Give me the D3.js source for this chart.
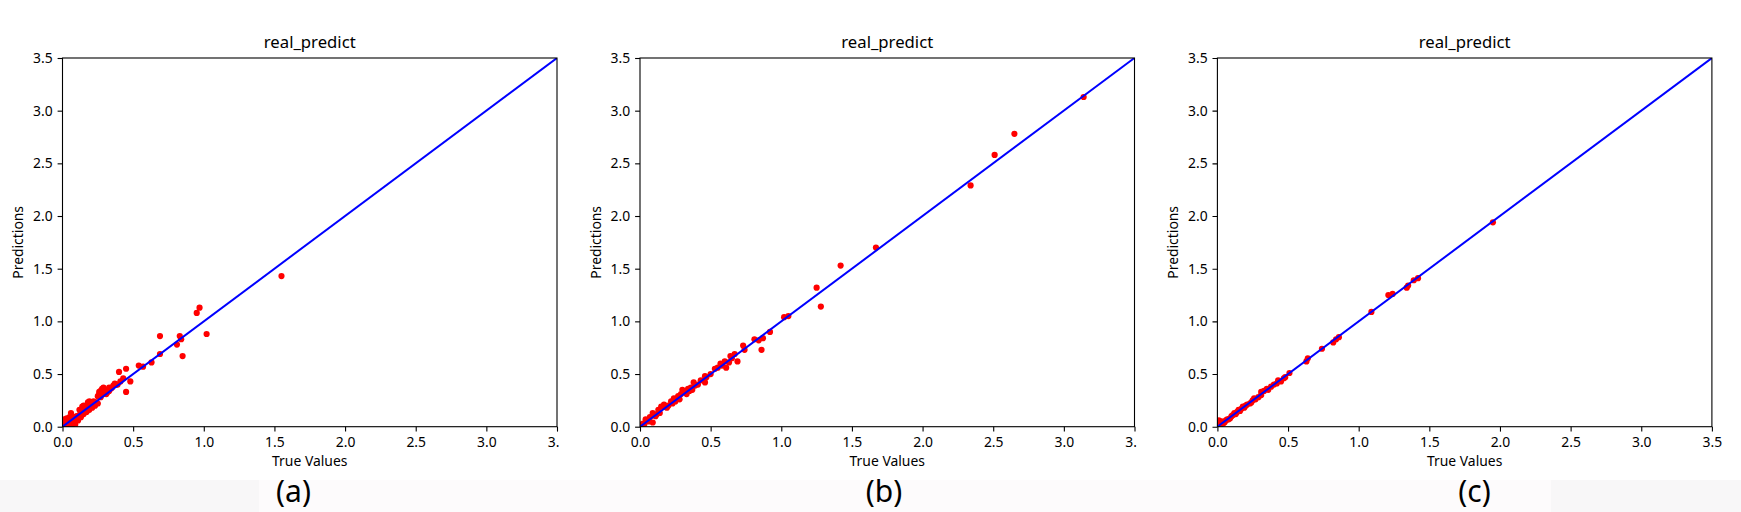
<!DOCTYPE html>
<html>
<head>
<meta charset="utf-8">
<script src="https://cdn.jsdelivr.net/npm/d3@7"></script>
<style>
  body { margin: 0; background: #fff; }
  svg { display: block; }
</style>
</head>
<body>
<div class="chart"></div>
<script>
// values, one pair of arrays per panel
const trueA = [1.55,0.97,0.95,1.02,0.69,0.83,0.84,0.81,0.85,0.69,0.63,0.57,0.54,0.48,0.40,0.45,0.45,0.43,0.41,0.38,0.36,0.35,0.34,0.33,0.32,0.31,0.30,0.29,0.28,0.27,0.26,0.26,0.25,0.24,0.23,0.22,0.21,0.20,0.19,0.18,0.17,0.16,0.15,0.14,0.14,0.13,0.12,0.12,0.11,0.10,0.10,0.09,0.08,0.08,0.07,0.07,0.06,0.06,0.05,0.05,0.04,0.03,0.03,0.02,0.01,0.01,0.00,0.02,0.09,0.11,0.13,0.15,0.17,0.19,0.21,0.23,0.25,0.27,0.29,0.31,0.33,0.37,0.39,0.18,0.16];
const predA = [1.43,1.13,1.08,0.88,0.86,0.86,0.83,0.78,0.67,0.69,0.61,0.57,0.58,0.43,0.52,0.55,0.33,0.46,0.43,0.40,0.39,0.37,0.36,0.34,0.33,0.31,0.35,0.37,0.36,0.34,0.31,0.33,0.29,0.23,0.22,0.24,0.23,0.21,0.24,0.19,0.17,0.16,0.20,0.19,0.15,0.13,0.16,0.11,0.09,0.10,0.07,0.06,0.04,0.09,0.05,0.02,0.13,0.01,0.09,0.03,0.06,0.08,0.02,0.05,0.07,0.01,0.03,0.00,0.02,0.06,0.09,0.12,0.14,0.16,0.18,0.20,0.22,0.28,0.31,0.34,0.37,0.41,0.40,0.23,0.19];

const trueB = [3.14,2.65,2.51,2.34,1.67,1.42,1.25,1.28,1.02,1.05,0.92,0.87,0.84,0.81,0.86,0.73,0.74,0.69,0.67,0.64,0.63,0.61,0.60,0.57,0.53,0.55,0.47,0.46,0.46,0.41,0.38,0.37,0.34,0.30,0.29,0.28,0.24,0.22,0.17,0.15,0.13,0.09,0.07,0.09,0.04,0.02,0.32,0.26,0.25,0.20,0.19,0.18,0.12,0.11,0.10,0.06,0.05,0.03,0.01,0.35,0.39,0.43,0.50,0.58,0.65,0.14,0.23,0.27,0.33,0.36];
const predB = [3.13,2.78,2.58,2.29,1.70,1.53,1.32,1.14,1.04,1.05,0.90,0.84,0.82,0.83,0.73,0.77,0.73,0.62,0.69,0.67,0.61,0.56,0.62,0.60,0.55,0.56,0.47,0.48,0.42,0.40,0.42,0.35,0.36,0.35,0.31,0.26,0.27,0.24,0.21,0.19,0.16,0.13,0.09,0.04,0.07,0.03,0.33,0.27,0.24,0.20,0.18,0.19,0.12,0.10,0.11,0.05,0.06,0.02,0.01,0.34,0.39,0.44,0.50,0.58,0.65,0.13,0.22,0.29,0.31,0.37];

const trueC = [1.95,1.42,1.39,1.34,1.35,1.24,1.21,1.09,0.86,0.84,0.82,0.74,0.64,0.63,0.51,0.48,0.45,0.43,0.38,0.35,0.31,0.31,0.29,0.27,0.25,0.23,0.21,0.19,0.17,0.16,0.14,0.13,0.11,0.09,0.08,0.06,0.04,0.02,0.01,0.03,0.00,0.40,0.42,0.47,0.33,0.36,0.26,0.24,0.20,0.18,0.15,0.12,0.10,0.07,0.05];
const predC = [1.94,1.41,1.39,1.32,1.34,1.26,1.25,1.09,0.85,0.83,0.80,0.74,0.65,0.62,0.51,0.47,0.43,0.44,0.38,0.36,0.33,0.30,0.28,0.26,0.25,0.22,0.21,0.18,0.17,0.15,0.14,0.12,0.11,0.08,0.07,0.06,0.03,0.02,0.06,0.05,0.01,0.40,0.41,0.46,0.34,0.35,0.27,0.23,0.20,0.19,0.16,0.13,0.10,0.07,0.04];

const ticks = [0, 0.5, 1.0, 1.5, 2.0, 2.5, 3.0, 3.5];
const diagonal = [0, 3.5];
const captions = ['(a)', '(b)', '(c)'];
const title = 'real_predict';
const xLabel = 'True Values';
const yLabel = 'Predictions';

const W = 1741, H = 512;
const FONT = '"Noto Sans", "Open Sans", sans-serif';

const svg = d3.select('.chart').append('svg')
	.attr('width', W)
	.attr('height', H);

// strip along the bottom where the three pictures were pasted
svg.append('rect').attr('x', 0).attr('y', 480).attr('width', W).attr('height', H - 480).attr('fill', '#fdfbfc');
svg.append('rect').attr('x', 0).attr('y', 480).attr('width', 259).attr('height', H - 480).attr('fill', '#f8f7f8');
svg.append('rect').attr('x', 1551).attr('y', 480).attr('width', W - 1551).attr('height', H - 480).attr('fill', '#f8f7f8');

class Panel{
	constructor({xs, ys, left, caption, capX, cut, idx}){
		this.xs = xs;
		this.ys = ys;
		this.left = left;
		this.w = 494.5;
		this.top = 58;
		this.bottom = 426.7;
		this.caption = caption;
		this.capX = capX;
		this.cut = cut;
		this.idx = idx;
		this.x = d3.scaleLinear().domain([0, 3.5]).range([left, left + this.w]);
		this.y = d3.scaleLinear().domain([0, 3.5]).range([this.bottom, this.top]);
	}

	render(){
		const id = 'p' + this.idx;
		const defs = svg.append('defs');
		// the first two pictures were cropped just past the right spine
		defs.append('clipPath').attr('id', id + 'cut')
			.append('rect')
			.attr('x', this.left - 70).attr('y', 0)
			.attr('width', this.cut ? this.w + 72 : this.w + 90).attr('height', 480);
		defs.append('clipPath').attr('id', id + 'area')
			.append('rect')
			.attr('x', this.left).attr('y', this.top)
			.attr('width', this.w).attr('height', this.bottom - this.top);

		const g = svg.append('g').attr('clip-path', `url(#${id}cut)`);

		const plot = g.append('g').attr('clip-path', `url(#${id}area)`);
		plot.selectAll('circle')
			.data(d3.zip(this.xs, this.ys))
			.join('circle')
			.attr('cx', d => this.x(d[0]))
			.attr('cy', d => this.y(d[1]))
			.attr('r', 3.1)
			.attr('fill', '#ff0000');

		plot.append('path')
			.datum(diagonal)
			.attr('d', d3.line().x(d => this.x(d)).y(d => this.y(d)))
			.attr('stroke', '#0000ff')
			.attr('stroke-width', 2)
			.attr('fill', 'none');

		const xAxis = g.append('g')
			.attr('transform', `translate(0,${this.bottom})`)
			.call(d3.axisBottom(this.x).tickValues(ticks).tickFormat(d3.format('.1f')).tickSize(4.9).tickPadding(4.9).tickSizeOuter(0));
		const yAxis = g.append('g')
			.attr('transform', `translate(${this.left},0)`)
			.call(d3.axisLeft(this.y).tickValues(ticks).tickFormat(d3.format('.1f')).tickSize(4.9).tickPadding(4.9).tickSizeOuter(0));
		[xAxis, yAxis].forEach(a => {
			a.select('.domain').remove();
			a.attr('font-family', FONT).attr('font-size', 13.9);
			a.selectAll('line').attr('stroke', '#000').attr('stroke-width', 1.1);
			a.selectAll('text').attr('fill', '#000');
		});
		xAxis.selectAll('text').attr('dy', '0.76em');

		g.append('rect')
			.attr('x', this.left).attr('y', this.top)
			.attr('width', this.w).attr('height', this.bottom - this.top)
			.attr('fill', 'none').attr('stroke', '#000').attr('stroke-width', 1.1);

		const cx = this.left + this.w / 2;
		g.append('text')
			.attr('x', cx).attr('y', 47.5)
			.attr('text-anchor', 'middle')
			.attr('font-family', FONT).attr('font-size', 16.7)
			.text(title);
		g.append('text')
			.attr('x', cx).attr('y', 466)
			.attr('text-anchor', 'middle')
			.attr('font-family', FONT).attr('font-size', 13.9)
			.text(xLabel);
		g.append('text')
			.attr('transform', `translate(${this.left - 39.3},${(this.top + this.bottom) / 2}) rotate(-90)`)
			.attr('text-anchor', 'middle')
			.attr('font-family', FONT).attr('font-size', 13.9)
			.text(yLabel);

		svg.append('text')
			.attr('x', this.capX).attr('y', 502)
			.attr('text-anchor', 'middle')
			.attr('font-family', FONT).attr('font-size', 30)
			.text(this.caption);
	}
}

const lefts = [62.5, 640, 1217.4];
const capXs = [293.5, 884, 1474.5];
const series = [[trueA, predA], [trueB, predB], [trueC, predC]];

series.forEach((s, i) => {
	new Panel({
		xs: s[0],
		ys: s[1],
		left: lefts[i],
		caption: captions[i],
		capX: capXs[i],
		cut: i < 2,
		idx: i
	}).render();
});
</script>
</body>
</html>
